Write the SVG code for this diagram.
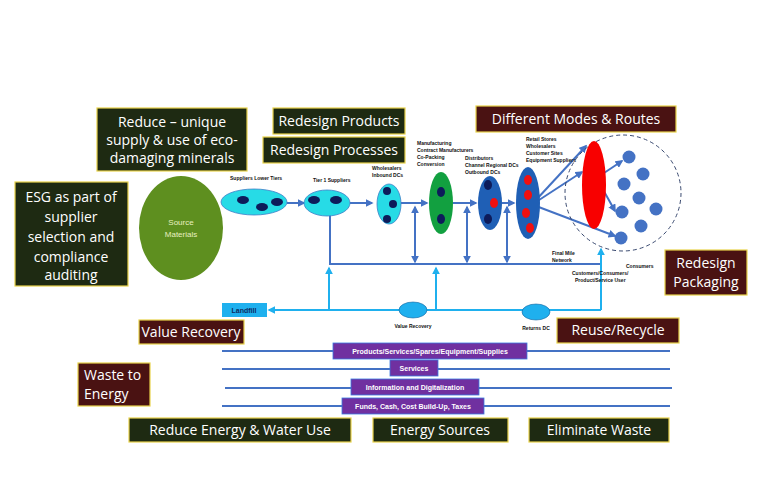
<svg xmlns="http://www.w3.org/2000/svg" width="760" height="501" viewBox="0 0 760 501">
<style>
.g{fill:#1e2a12;stroke:#e8d34a;stroke-width:1.2}
.m{fill:#4a1212;stroke:#e8d34a;stroke-width:1.2}
.bt{font-family:"Open Sans","Liberation Sans",sans-serif;font-size:14px;fill:#fff}
.s{font-family:"Liberation Sans",sans-serif;font-size:5px;font-weight:bold;fill:#111}
.p{fill:#7030a0;stroke:#3b7be0;stroke-width:0.8}
.pt{font-family:"Liberation Sans",sans-serif;font-size:7px;font-weight:bold;fill:#fff;text-anchor:middle}
.fl{stroke:#4472c4;stroke-width:2;fill:none}
.lb{stroke:#1fb0ee;stroke-width:2;fill:none}
.hl{stroke:#4472c4;stroke-width:2}
.dot{fill:#0d1b5a}
.bd{fill:#4472c4}
</style>
<defs>
<marker id="a" viewBox="0 0 10 10" refX="8" refY="5" markerWidth="4" markerHeight="4" orient="auto-start-reverse"><path d="M0,0L10,5L0,10z" fill="#4472c4"/></marker>
<marker id="b" viewBox="0 0 10 10" refX="8" refY="5" markerWidth="4" markerHeight="4" orient="auto-start-reverse"><path d="M0,0L10,5L0,10z" fill="#1fb0ee"/></marker>
</defs>
<rect width="760" height="501" fill="#fff"/>
<g id="connectors">
<g marker-end="url(#a)" class="fl">
<path d="M287,203H304"/><path d="M350,203H372"/><path d="M401,203H427"/><path d="M453,203H476"/><path d="M502,203H514"/>
<path d="M536,200L586,146"/><path d="M536,202L582,172"/><path d="M536,206L615,236"/><path d="M601,175L622,161"/><path d="M601,186L615,211"/>
</g>
<path class="fl" d="M330,215V264H602"/>
<g class="fl" marker-end="url(#a)" marker-start="url(#a)"><path d="M415,262V207"/><path d="M467,262V207"/><path d="M507,262V207"/></g>
<path class="lb" d="M601,310H269" marker-end="url(#b)"/>
<path class="lb" d="M601,310V249" marker-end="url(#b)"/>
<path class="lb" d="M329,310V268" marker-end="url(#b)"/>
<path class="lb" d="M436,310V268" marker-end="url(#b)"/>
<path class="hl" d="M222,351H670M222,369H670M225,388H672M222,406H670"/>
</g>
<g id="boxes">
<rect class="g" x="97" y="108" width="150" height="63"/><text class="bt" x="172" y="127" text-anchor="middle">Reduce – unique</text><text class="bt" x="172" y="145" text-anchor="middle">supply &amp; use of eco-</text><text class="bt" x="172" y="163" text-anchor="middle">damaging minerals</text>
<rect class="g" x="273" y="108" width="132" height="26"/><text class="bt" x="339" y="126" text-anchor="middle">Redesign Products</text>
<rect class="g" x="263" y="137" width="142" height="26"/><text class="bt" x="334" y="155" text-anchor="middle">Redesign Processes</text>
<rect class="m" x="476" y="106" width="200" height="26"/><text class="bt" x="576" y="124" text-anchor="middle">Different Modes &amp; Routes</text>
<rect class="g" x="15" y="182" width="113" height="104"/><g class="bt" text-anchor="middle"><text x="71" y="202">ESG as part of</text><text x="71" y="222">supplier</text><text x="71" y="242">selection and</text><text x="71" y="262">compliance</text><text x="71" y="280">auditing</text></g>
<rect class="m" x="665" y="250" width="82" height="45"/><text class="bt" x="706" y="268" text-anchor="middle">Redesign</text><text class="bt" x="706" y="287" text-anchor="middle">Packaging</text>
<rect class="m" x="139" y="320" width="105" height="24"/><text class="bt" x="191" y="337" text-anchor="middle">Value Recovery</text>
<rect class="m" x="557" y="318" width="122" height="25"/><text class="bt" x="618" y="335" text-anchor="middle">Reuse/Recycle</text>
<rect class="m" x="78" y="363" width="72" height="43"/><text class="bt" x="84" y="380">Waste to</text><text class="bt" x="84" y="399">Energy</text>
<rect class="g" x="129" y="418" width="222" height="24"/><text class="bt" x="240" y="435" text-anchor="middle">Reduce Energy &amp; Water Use</text>
<rect class="g" x="373" y="418" width="135" height="24"/><text class="bt" x="440" y="435" text-anchor="middle">Energy Sources</text>
<rect class="g" x="529" y="418" width="140" height="24"/><text class="bt" x="599" y="435" text-anchor="middle">Eliminate Waste</text>
</g>
<g id="source"><ellipse cx="181" cy="228" rx="42" ry="52" fill="#5e8f1f"/><text x="181" y="225" font-family="Liberation Sans,sans-serif" font-size="8" fill="#e8f0c0" text-anchor="middle">Source</text><text x="181" y="237" font-family="Liberation Sans,sans-serif" font-size="8" fill="#e8f0c0" text-anchor="middle">Materials</text></g>
<g id="lowertiers"><ellipse cx="254" cy="202" rx="33" ry="13" fill="#27dbe6" stroke="#3f7fc8" stroke-width="0.8"/><ellipse class="dot" cx="243" cy="200" rx="6" ry="4"/><ellipse class="dot" cx="262" cy="207" rx="6" ry="4"/><ellipse class="dot" cx="277" cy="202" rx="6" ry="4"/><text class="s" x="230" y="180">Suppliers Lower Tiers</text></g>
<g id="tier1"><ellipse cx="327" cy="203" rx="23" ry="13" fill="#27dbe6" stroke="#3f7fc8" stroke-width="0.8"/><ellipse class="dot" cx="314" cy="200" rx="6" ry="4"/><ellipse class="dot" cx="336" cy="200" rx="6" ry="4"/><text class="s" x="313" y="182">Tier 1 Suppliers</text></g>
<g id="wholesalers"><ellipse cx="389" cy="204" rx="12" ry="20" fill="#27dbe6" stroke="#3f7fc8" stroke-width="0.8"/><ellipse class="dot" cx="387" cy="191" rx="4" ry="4"/><ellipse class="dot" cx="393" cy="204" rx="4" ry="4"/><ellipse class="dot" cx="387" cy="219" rx="4" ry="4"/><text class="s" x="372" y="170">Wholesalers</text><text class="s" x="372" y="177">Inbound DCs</text></g>
<g id="mfg"><ellipse cx="441" cy="203" rx="12" ry="31" fill="#12a040"/><ellipse class="dot" cx="441" cy="192" rx="4" ry="5"/><ellipse class="dot" cx="441" cy="219" rx="4" ry="5"/><text class="s" x="417" y="145">Manufacturing</text><text class="s" x="417" y="152">Contract Manufacturers</text><text class="s" x="417" y="159">Co-Packing</text><text class="s" x="417" y="166">Conversion</text></g>
<g id="dist"><ellipse cx="490" cy="203" rx="12" ry="27" fill="#1f5fb5"/><ellipse class="dot" cx="488" cy="185" rx="4" ry="5"/><ellipse cx="494" cy="203" rx="4" ry="5" fill="#f01010"/><ellipse class="dot" cx="488" cy="219" rx="4" ry="5"/><text class="s" x="465" y="160">Distributors</text><text class="s" x="465" y="167">Channel Regional DCs</text><text class="s" x="465" y="174">Outbound DCs</text></g>
<g id="retail"><ellipse cx="528" cy="203" rx="12" ry="36" fill="#1f5fb5"/><ellipse cx="528" cy="180" rx="4" ry="5" fill="#f01010"/><ellipse cx="528" cy="195" rx="4" ry="5" fill="#f01010"/><ellipse cx="526" cy="213" rx="4" ry="5" fill="#f01010"/><ellipse cx="530" cy="228" rx="4" ry="5" fill="#f01010"/><text class="s" x="526" y="141">Retail Stores</text><text class="s" x="526" y="148">Wholesalers</text><text class="s" x="526" y="155">Customer Sites</text><text class="s" x="526" y="162">Equipment Suppliers</text></g>
<g id="consumers"><circle cx="623" cy="193" r="58" fill="none" stroke="#3a4a70" stroke-dasharray="4,3"/><ellipse cx="594" cy="185" rx="12" ry="44" fill="#f80000"/>
<g class="bd"><circle cx="629" cy="157" r="6.5"/><circle cx="643" cy="174" r="6.5"/><circle cx="624" cy="184" r="6.5"/><circle cx="639" cy="198" r="6.5"/><circle cx="656" cy="209" r="6.5"/><circle cx="622" cy="212" r="6.5"/><circle cx="641" cy="226" r="6.5"/><circle cx="621" cy="238" r="6.5"/></g>
<text class="s" x="552" y="255">Final Mile</text><text class="s" x="552" y="262">Network</text><text class="s" x="626" y="268">Consumers</text><text class="s" x="572" y="275">Customers/Consumers/</text><text class="s" x="575" y="282">Product/Service User</text></g>
<g id="returns"><rect x="222" y="303" width="45" height="14" fill="#1fb0ee"/><text x="244" y="313" font-family="Liberation Sans,sans-serif" font-size="7" font-weight="bold" fill="#0d2a60" text-anchor="middle">Landfill</text>
<ellipse cx="413" cy="310" rx="14" ry="8" fill="#1fb0ee" stroke="#1565a0" stroke-width="0.6"/><text class="s" x="413" y="328" text-anchor="middle">Value Recovery</text>
<ellipse cx="536" cy="312" rx="14" ry="8" fill="#1fb0ee" stroke="#1565a0" stroke-width="0.6"/><text class="s" x="536" y="330" text-anchor="middle">Returns DC</text></g>
<g id="flows"><rect class="p" x="333" y="343" width="194" height="16"/><text class="pt" x="430" y="354">Products/Services/Spares/Equipment/Supplies</text>
<rect class="p" x="390" y="360" width="48" height="16"/><text class="pt" x="414" y="371">Services</text>
<rect class="p" x="351" y="379" width="128" height="16"/><text class="pt" x="415" y="390">Information and Digitalization</text>
<rect class="p" x="342" y="398" width="142" height="16"/><text class="pt" x="413" y="409">Funds, Cash, Cost Build-Up, Taxes</text></g>
</svg>
